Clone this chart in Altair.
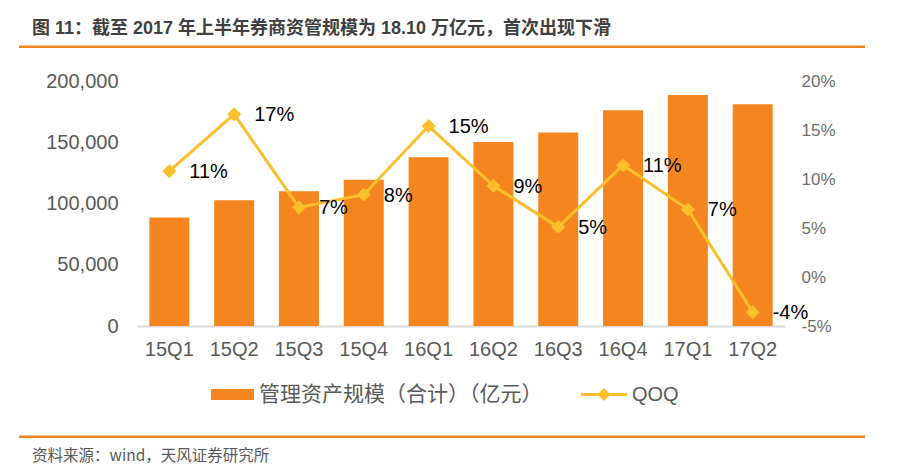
import altair as alt
import pandas as pd

categories = ["15Q1", "15Q2", "15Q3", "15Q4", "16Q1", "16Q2", "16Q3", "16Q4", "17Q1", "17Q2"]
aum_values = [88500, 102700, 110100, 119400, 137700, 150200, 158000, 176200, 188500, 181000]
qoq_values = [10.8, 16.6, 7.1, 8.4, 15.4, 9.3, 5.1, 11.4, 6.9, -3.6]
qoq_labels = ["11%", "17%", "7%", "8%", "15%", "9%", "5%", "11%", "7%", "-4%"]
left_ticks = [0, 50000, 100000, 150000, 200000]
right_ticks = [-5, 0, 5, 10, 15, 20]

bar_name = "管理资产规模（合计）（亿元）"
line_name = "QOQ"
title_text = "图 11：截至 2017 年上半年券商资管规模为 18.10 万亿元，首次出现下滑"
source_text = "资料来源：wind，天风证券研究所"

BAR_COLOR = "#F5861F"
LINE_COLOR = "#FCBF2C"
ACCENT = "#F0841F"
GRAY = "#595959"
FONT = "Liberation Sans, Noto Sans CJK SC"
CJK_FONT = "Noto Sans CJK SC, Liberation Sans"

df = pd.DataFrame({
    "cat": categories,
    "aum": aum_values,
    "qoq": qoq_values,
    "label": qoq_labels,
    "bar_series": [bar_name] * len(categories),
    "line_series": [line_name] * len(categories),
})

xenc = alt.X("cat:N", sort=categories, title=None,
             scale=alt.Scale(paddingInner=0.383, paddingOuter=0.19),
             axis=alt.Axis(labelAngle=0, labelFontSize=20, labelColor=GRAY, labelFont=FONT,
                           ticks=False, domainColor="#D9D9D9", domainWidth=2,
                           labelBaseline="middle", labelPadding=23, grid=False))

bars = alt.Chart(df).mark_bar(color=BAR_COLOR).encode(
    x=xenc,
    y=alt.Y("aum:Q", title=None,
            scale=alt.Scale(domain=[0, 200000], nice=False, zero=True),
            axis=alt.Axis(values=left_ticks, labelExpr="format(datum.value, ',.0f')",
                          labelFontSize=20, labelColor=GRAY,
                          labelFont=FONT, ticks=False, domain=False, grid=False, labelPadding=19,
                          orient="left")),
    color=alt.Color("bar_series:N", title=None,
                    scale=alt.Scale(range=[BAR_COLOR]),
                    legend=alt.Legend(orient="none", legendX=74, legendY=292, padding=0,
                                      symbolType="M-1,-0.256H1V0.256H-1Z", symbolSize=1849,
                                      symbolStrokeWidth=0, labelOffset=5, labelFontSize=21,
                                      labelColor=GRAY, labelFont=CJK_FONT, labelLimit=400)),
)

yq = alt.Y("qoq:Q", title=None,
           scale=alt.Scale(domain=[-5, 20], nice=False, zero=False),
           axis=alt.Axis(values=right_ticks, labelExpr="datum.value + '%'", labelFontSize=17,
                         labelColor="#6E6E6E", labelFont="Liberation Sans Narrow, Liberation Sans",
                         ticks=False, domain=False, grid=False, labelPadding=16, orient="right"))

line = alt.Chart(df).mark_line(color=LINE_COLOR, strokeWidth=3).encode(
    x=alt.X("cat:N", sort=categories), y=yq)

points = alt.Chart(df).mark_point(shape="diamond", filled=True, size=170, opacity=1,
                                  stroke=LINE_COLOR, strokeWidth=1).encode(
    x=alt.X("cat:N", sort=categories),
    y=alt.Y("qoq:Q"),
    fill=alt.Fill("line_series:N", title=None,
                  scale=alt.Scale(range=[LINE_COLOR]),
                  legend=alt.Legend(orient="none", legendX=444, legendY=290.5, padding=0,
                                    symbolType="M-1,-0.065H1V0.065H-1Z M0,-0.28L0.28,0L0,0.28L-0.28,0Z",
                                    symbolSize=2116, symbolStrokeWidth=0, labelOffset=5,
                                    labelFontSize=20, labelColor=GRAY, labelFont=FONT)),
)

labels = alt.Chart(df).mark_text(align="left", baseline="middle", dx=20, dy=1,
                                 fontSize=20, font=FONT, color="#000000").encode(
    x=alt.X("cat:N", sort=categories),
    y=alt.Y("qoq:Q"),
    text="label:N",
)

pct_layer = alt.layer(line, points, labels)

deco_df = pd.DataFrame({"t": [title_text]})
title_mark = alt.Chart(pd.DataFrame({"t": [title_text]})).mark_text(
    align="left", baseline="middle", fontSize=18, fontWeight="bold", font=FONT, color="#404040"
).encode(x=alt.value(-105), y=alt.value(-52.5), text="t:N")

source_mark = alt.Chart(pd.DataFrame({"t": [source_text]})).mark_text(
    align="left", baseline="middle", fontSize=15.5, font=CJK_FONT, color=GRAY
).encode(x=alt.value(-105), y=alt.value(374.7), text="t:N")

top_rule = alt.Chart(deco_df).mark_rule(color=ACCENT, strokeWidth=2.6).encode(
    x=alt.value(-118), x2=alt.value(728), y=alt.value(-34.3))
bottom_rule = alt.Chart(deco_df).mark_rule(color=ACCENT, strokeWidth=2.6).encode(
    x=alt.value(-118), x2=alt.value(728), y=alt.value(355.7))

chart = alt.layer(bars, pct_layer, title_mark, source_mark, top_rule, bottom_rule).resolve_scale(
    y="independent", color="independent", fill="independent"
).properties(
    width=648, height=245,
    autosize=alt.AutoSizeParams(type="none"),
    padding={"left": 129, "top": 73, "right": 100, "bottom": 143},
    background="white",
).configure_view(stroke=None)

chart.save("out.html", embed_options={"renderer": "svg", "actions": False})
